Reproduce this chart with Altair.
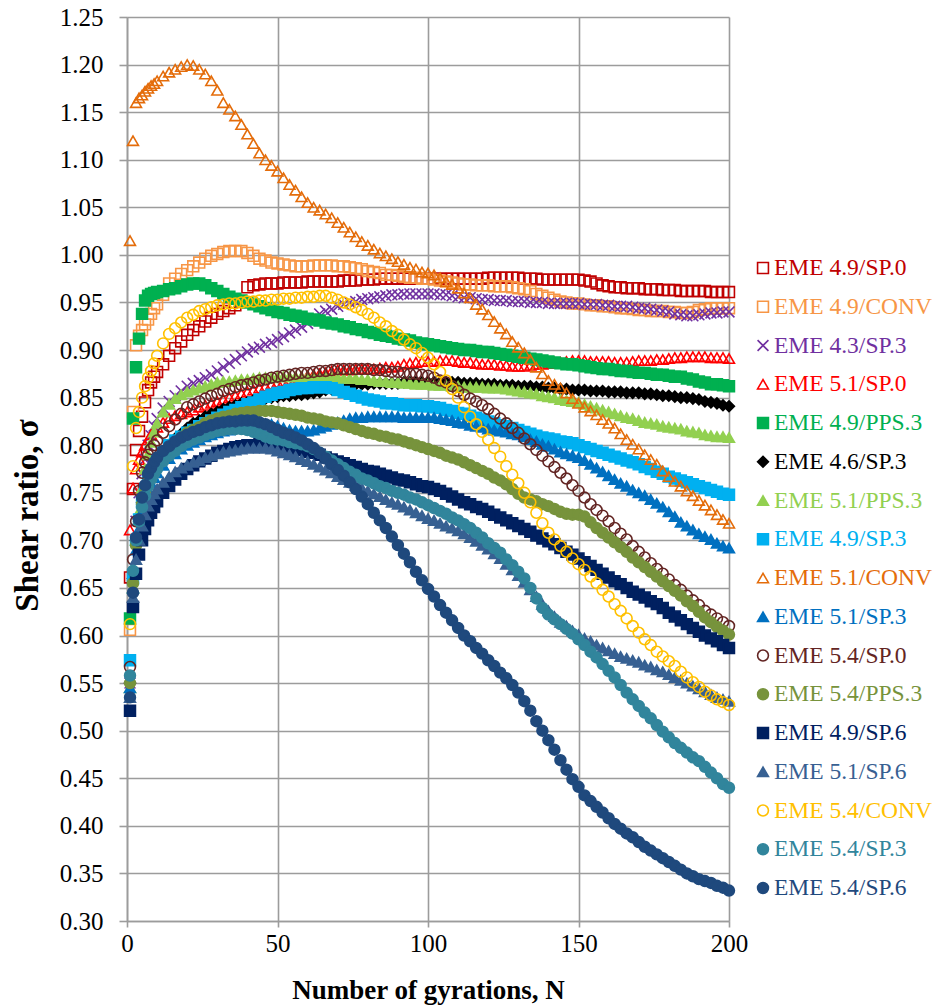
import altair as alt
import pandas as pd

# Gyration counts at which the shear ratio is plotted
GYRATIONS = list(range(1, 11)) + list(range(12, 201, 2))

SERIES = [
    "EME 4.9/SP.0", "EME 4.9/CONV", "EME 4.3/SP.3", "EME 5.1/SP.0",
    "EME 4.9/PPS.3", "EME 4.6/SP.3", "EME 5.1/PPS.3", "EME 4.9/SP.3",
    "EME 5.1/CONV", "EME 5.1/SP.3", "EME 5.4/SP.0", "EME 5.4/PPS.3",
    "EME 4.9/SP.6", "EME 5.1/SP.6", "EME 5.4/CONV", "EME 5.4/SP.3",
    "EME 5.4/SP.6",
]

COLORS = [
    "#C00000", "#F79646", "#7030A0", "#FF0000",
    "#00B050", "#000000", "#92D050", "#00B0F0",
    "#E46C0A", "#0070C0", "#632523", "#77933C",
    "#002060", "#376092", "#FFC000", "#31859C",
    "#1F497D",
]

X_MARK = "M-1,-1L1,1M-1,1L1,-1"
SHAPES = [
    "square", "square", X_MARK, "triangle-up",
    "square", "diamond", "triangle-up", "square",
    "triangle-up", "triangle-up", "circle", "circle",
    "square", "triangle-up", "circle", "circle",
    "circle",
]
HOLLOW = [
    True, True, True, True,
    False, False, False, False,
    True, False, True, False,
    False, False, True, False,
    False,
]

# Shear ratio per mixture: N = 1..10, then every second gyration up to 200
S_49_SP0 = [
    0.661, 0.754, 0.795, 0.815, 0.830, 0.845, 0.858, 0.866, 0.872, 0.877,
    0.885, 0.894, 0.902, 0.909, 0.916, 0.921, 0.925, 0.930, 0.934, 0.938,
    0.941, 0.944, 0.947, 0.951, 0.966, 0.968, 0.969, 0.970, 0.970, 0.970,
    0.971, 0.971, 0.971, 0.971, 0.972, 0.972, 0.972, 0.972, 0.972, 0.972,
    0.973, 0.973, 0.973, 0.974, 0.974, 0.974, 0.975, 0.975, 0.975, 0.975,
    0.975, 0.975, 0.975, 0.975, 0.975, 0.975, 0.975, 0.975, 0.975, 0.975,
    0.975, 0.975, 0.975, 0.975, 0.976, 0.976, 0.976, 0.976, 0.976, 0.976,
    0.975, 0.975, 0.975, 0.974, 0.974, 0.974, 0.974, 0.974, 0.974, 0.974,
    0.973, 0.972, 0.970, 0.968, 0.967, 0.966, 0.966, 0.965, 0.965, 0.965,
    0.964, 0.964, 0.964, 0.963, 0.963, 0.963, 0.962, 0.962, 0.962, 0.962,
    0.962, 0.961, 0.961, 0.961, 0.961,
]
S_49_CONV = [
    0.606, 0.835, 0.905, 0.915, 0.921, 0.927, 0.932, 0.938, 0.944, 0.948,
    0.958, 0.970, 0.975, 0.980, 0.984, 0.988, 0.992, 0.996, 0.999, 1.001,
    1.003, 1.004, 1.004, 1.004, 1.002, 0.999, 0.996, 0.994, 0.992, 0.991,
    0.990, 0.989, 0.988, 0.988, 0.988, 0.989, 0.989, 0.989, 0.989, 0.988,
    0.988, 0.987, 0.986, 0.985, 0.983, 0.982, 0.981, 0.979, 0.979, 0.978,
    0.977, 0.976, 0.976, 0.975, 0.975, 0.974, 0.973, 0.972, 0.971, 0.970,
    0.969, 0.969, 0.968, 0.968, 0.968, 0.967, 0.967, 0.967, 0.966, 0.965,
    0.964, 0.962, 0.959, 0.957, 0.955, 0.953, 0.951, 0.950, 0.949, 0.949,
    0.948, 0.947, 0.947, 0.946, 0.946, 0.945, 0.944, 0.944, 0.943, 0.942,
    0.942, 0.941, 0.941, 0.941, 0.940, 0.940, 0.939, 0.939, 0.940, 0.942,
    0.943, 0.944, 0.944, 0.944, 0.944,
]
S_43_SP3 = [
    0.550, 0.660, 0.720, 0.750, 0.770, 0.785, 0.800, 0.810, 0.820, 0.828,
    0.839, 0.846, 0.852, 0.857, 0.862, 0.865, 0.868, 0.871, 0.874, 0.878,
    0.882, 0.886, 0.890, 0.894, 0.898, 0.901, 0.903, 0.906, 0.908, 0.911,
    0.914, 0.918, 0.921, 0.924, 0.928, 0.933, 0.938, 0.941, 0.943, 0.946,
    0.948, 0.950, 0.951, 0.953, 0.954, 0.955, 0.956, 0.957, 0.958, 0.958,
    0.959, 0.959, 0.959, 0.959, 0.959, 0.959, 0.958, 0.958, 0.957, 0.956,
    0.955, 0.955, 0.954, 0.953, 0.953, 0.952, 0.952, 0.952, 0.951, 0.951,
    0.951, 0.950, 0.950, 0.950, 0.949, 0.949, 0.949, 0.949, 0.949, 0.949,
    0.948, 0.948, 0.948, 0.947, 0.947, 0.946, 0.946, 0.946, 0.945, 0.944,
    0.944, 0.943, 0.942, 0.941, 0.940, 0.938, 0.937, 0.936, 0.936, 0.937,
    0.938, 0.939, 0.939, 0.940, 0.940,
]
S_51_SP0 = [
    0.711, 0.755, 0.775, 0.785, 0.793, 0.800, 0.806, 0.811, 0.815, 0.819,
    0.824, 0.828, 0.831, 0.833, 0.835, 0.837, 0.840, 0.842, 0.844, 0.846,
    0.848, 0.850, 0.852, 0.854, 0.856, 0.858, 0.860, 0.862, 0.864, 0.866,
    0.867, 0.869, 0.870, 0.871, 0.873, 0.874, 0.875, 0.876, 0.878, 0.879,
    0.879, 0.879, 0.880, 0.880, 0.880, 0.880, 0.881, 0.882, 0.882, 0.883,
    0.885, 0.886, 0.887, 0.888, 0.888, 0.888, 0.889, 0.889, 0.889, 0.888,
    0.887, 0.887, 0.886, 0.885, 0.885, 0.885, 0.884, 0.884, 0.883, 0.883,
    0.883, 0.884, 0.885, 0.885, 0.886, 0.887, 0.887, 0.888, 0.889, 0.889,
    0.889, 0.888, 0.888, 0.888, 0.888, 0.887, 0.887, 0.887, 0.888, 0.889,
    0.889, 0.889, 0.890, 0.890, 0.891, 0.892, 0.892, 0.893, 0.893, 0.893,
    0.893, 0.892, 0.892, 0.892, 0.891,
]
S_49_PPS3 = [
    0.618, 0.828, 0.882, 0.912, 0.938, 0.952, 0.957, 0.959, 0.960, 0.961,
    0.962, 0.964, 0.965, 0.967, 0.969, 0.970, 0.970, 0.968, 0.965, 0.962,
    0.959, 0.956, 0.954, 0.952, 0.950, 0.948, 0.946, 0.944, 0.942, 0.940,
    0.939, 0.937, 0.936, 0.935, 0.933, 0.932, 0.931, 0.929, 0.928, 0.927,
    0.925, 0.924, 0.922, 0.921, 0.919, 0.918, 0.916, 0.915, 0.914, 0.912,
    0.911, 0.910, 0.908, 0.907, 0.906, 0.905, 0.904, 0.903, 0.902, 0.901,
    0.900, 0.900, 0.899, 0.898, 0.898, 0.897, 0.896, 0.895, 0.894, 0.893,
    0.892, 0.891, 0.890, 0.889, 0.888, 0.887, 0.886, 0.885, 0.885, 0.884,
    0.883, 0.882, 0.881, 0.880, 0.880, 0.879, 0.878, 0.878, 0.877, 0.876,
    0.876, 0.875, 0.874, 0.874, 0.873, 0.872, 0.872, 0.870, 0.869, 0.867,
    0.866, 0.864, 0.864, 0.863, 0.862,
]
S_46_SP3 = [
    0.550, 0.660, 0.700, 0.722, 0.740, 0.752, 0.762, 0.770, 0.776, 0.782,
    0.792, 0.800, 0.807, 0.812, 0.818, 0.823, 0.826, 0.830, 0.833, 0.835,
    0.838, 0.840, 0.842, 0.844, 0.845, 0.847, 0.848, 0.849, 0.850, 0.851,
    0.852, 0.852, 0.853, 0.853, 0.854, 0.855, 0.856, 0.858, 0.859, 0.861,
    0.862, 0.863, 0.864, 0.864, 0.864, 0.865, 0.865, 0.865, 0.865, 0.865,
    0.866, 0.866, 0.866, 0.866, 0.866, 0.866, 0.866, 0.866, 0.866, 0.866,
    0.865, 0.865, 0.865, 0.864, 0.864, 0.864, 0.863, 0.863, 0.863, 0.862,
    0.862, 0.862, 0.861, 0.861, 0.860, 0.860, 0.859, 0.859, 0.858, 0.858,
    0.858, 0.857, 0.857, 0.857, 0.856, 0.856, 0.856, 0.855, 0.855, 0.855,
    0.854, 0.854, 0.853, 0.852, 0.852, 0.851, 0.850, 0.850, 0.849, 0.848,
    0.846, 0.845, 0.844, 0.842, 0.841,
]
S_51_PPS3 = [
    0.545, 0.650, 0.700, 0.730, 0.755, 0.775, 0.790, 0.803, 0.814, 0.823,
    0.835, 0.843, 0.849, 0.853, 0.856, 0.858, 0.860, 0.862, 0.864, 0.866,
    0.867, 0.867, 0.868, 0.869, 0.869, 0.870, 0.871, 0.871, 0.871, 0.872,
    0.872, 0.872, 0.872, 0.872, 0.872, 0.872, 0.872, 0.871, 0.871, 0.871,
    0.870, 0.870, 0.870, 0.869, 0.869, 0.868, 0.867, 0.867, 0.866, 0.866,
    0.865, 0.865, 0.864, 0.864, 0.864, 0.863, 0.863, 0.863, 0.862, 0.862,
    0.861, 0.861, 0.861, 0.861, 0.860, 0.860, 0.860, 0.859, 0.858, 0.857,
    0.856, 0.855, 0.854, 0.852, 0.851, 0.850, 0.848, 0.847, 0.846, 0.845,
    0.843, 0.841, 0.839, 0.837, 0.835, 0.833, 0.831, 0.829, 0.828, 0.826,
    0.824, 0.823, 0.822, 0.820, 0.819, 0.818, 0.817, 0.815, 0.814, 0.813,
    0.811, 0.810, 0.809, 0.809, 0.808,
]
S_49_SP3 = [
    0.574, 0.660, 0.700, 0.722, 0.740, 0.752, 0.762, 0.770, 0.777, 0.783,
    0.792, 0.800, 0.805, 0.809, 0.813, 0.816, 0.820, 0.823, 0.826, 0.829,
    0.832, 0.835, 0.837, 0.840, 0.843, 0.845, 0.848, 0.851, 0.853, 0.855,
    0.856, 0.858, 0.859, 0.860, 0.860, 0.861, 0.861, 0.861, 0.860, 0.858,
    0.856, 0.854, 0.852, 0.850, 0.848, 0.847, 0.846, 0.844, 0.844, 0.843,
    0.842, 0.842, 0.842, 0.841, 0.841, 0.840, 0.839, 0.837, 0.836, 0.834,
    0.833, 0.831, 0.829, 0.827, 0.825, 0.823, 0.821, 0.820, 0.818, 0.816,
    0.814, 0.812, 0.810, 0.808, 0.807, 0.806, 0.804, 0.803, 0.802, 0.800,
    0.798, 0.796, 0.794, 0.792, 0.790, 0.788, 0.786, 0.784, 0.782, 0.780,
    0.777, 0.775, 0.772, 0.770, 0.767, 0.765, 0.763, 0.761, 0.759, 0.757,
    0.755, 0.753, 0.751, 0.749, 0.748,
]
S_51_CONV = [
    1.015, 1.120, 1.160, 1.165, 1.168, 1.172, 1.175, 1.178, 1.180, 1.183,
    1.188, 1.192, 1.195, 1.198, 1.200, 1.199, 1.195, 1.190, 1.183, 1.173,
    1.160, 1.153, 1.146, 1.137, 1.127, 1.117, 1.107, 1.100, 1.094, 1.088,
    1.081, 1.074, 1.068, 1.061, 1.055, 1.050, 1.047, 1.043, 1.039, 1.034,
    1.029, 1.024, 1.019, 1.014, 1.010, 1.006, 1.002, 0.999, 0.996, 0.993,
    0.990, 0.987, 0.985, 0.982, 0.981, 0.979, 0.976, 0.972, 0.969, 0.965,
    0.960, 0.955, 0.948, 0.943, 0.937, 0.930, 0.923, 0.917, 0.909, 0.903,
    0.897, 0.890, 0.882, 0.875, 0.868, 0.864, 0.860, 0.855, 0.849, 0.844,
    0.840, 0.836, 0.832, 0.827, 0.823, 0.818, 0.812, 0.806, 0.801, 0.796,
    0.790, 0.785, 0.780, 0.773, 0.767, 0.762, 0.757, 0.752, 0.747, 0.742,
    0.737, 0.732, 0.727, 0.722, 0.718,
]
S_51_SP3 = [
    0.545, 0.650, 0.690, 0.712, 0.730, 0.742, 0.752, 0.760, 0.766, 0.771,
    0.779, 0.786, 0.791, 0.796, 0.800, 0.803, 0.806, 0.809, 0.811, 0.813,
    0.815, 0.816, 0.818, 0.819, 0.820, 0.820, 0.821, 0.822, 0.822, 0.820,
    0.818, 0.816, 0.815, 0.815, 0.815, 0.816, 0.818, 0.820, 0.822, 0.824,
    0.826, 0.828, 0.829, 0.829, 0.830, 0.830, 0.830, 0.830, 0.830, 0.830,
    0.829, 0.829, 0.829, 0.829, 0.829, 0.829, 0.828, 0.827, 0.826, 0.824,
    0.823, 0.821, 0.820, 0.819, 0.817, 0.816, 0.815, 0.814, 0.812, 0.811,
    0.809, 0.806, 0.804, 0.801, 0.799, 0.796, 0.793, 0.791, 0.789, 0.787,
    0.784, 0.780, 0.776, 0.772, 0.768, 0.764, 0.760, 0.757, 0.753, 0.750,
    0.747, 0.743, 0.739, 0.735, 0.730, 0.725, 0.719, 0.715, 0.711, 0.707,
    0.704, 0.701, 0.697, 0.694, 0.692,
]
S_54_SP0 = [
    0.567, 0.680, 0.720, 0.752, 0.771, 0.782, 0.790, 0.796, 0.800, 0.805,
    0.813, 0.820, 0.827, 0.833, 0.840, 0.843, 0.846, 0.849, 0.852, 0.854,
    0.857, 0.859, 0.861, 0.863, 0.864, 0.866, 0.868, 0.869, 0.871, 0.872,
    0.873, 0.874, 0.875, 0.876, 0.876, 0.877, 0.878, 0.878, 0.879, 0.880,
    0.880, 0.880, 0.880, 0.880, 0.880, 0.879, 0.879, 0.878, 0.877, 0.877,
    0.876, 0.875, 0.875, 0.874, 0.873, 0.871, 0.868, 0.866, 0.862, 0.857,
    0.853, 0.849, 0.846, 0.842, 0.838, 0.833, 0.828, 0.823, 0.818, 0.813,
    0.807, 0.801, 0.795, 0.789, 0.783, 0.777, 0.771, 0.765, 0.758, 0.752,
    0.745, 0.738, 0.732, 0.726, 0.720, 0.713, 0.707, 0.701, 0.694, 0.688,
    0.682, 0.676, 0.670, 0.665, 0.659, 0.653, 0.648, 0.642, 0.637, 0.632,
    0.626, 0.622, 0.618, 0.614, 0.610,
]
S_54_PPS3 = [
    0.550, 0.655, 0.695, 0.720, 0.738, 0.750, 0.760, 0.768, 0.775, 0.781,
    0.790, 0.797, 0.803, 0.808, 0.813, 0.816, 0.819, 0.823, 0.826, 0.828,
    0.830, 0.831, 0.833, 0.834, 0.835, 0.835, 0.836, 0.836, 0.836, 0.835,
    0.834, 0.833, 0.832, 0.831, 0.829, 0.828, 0.827, 0.825, 0.824, 0.823,
    0.821, 0.819, 0.817, 0.815, 0.813, 0.812, 0.810, 0.809, 0.807, 0.806,
    0.804, 0.802, 0.800, 0.798, 0.796, 0.794, 0.792, 0.789, 0.787, 0.785,
    0.782, 0.779, 0.776, 0.773, 0.770, 0.766, 0.763, 0.759, 0.754, 0.749,
    0.745, 0.743, 0.741, 0.738, 0.736, 0.733, 0.730, 0.728, 0.727, 0.727,
    0.725, 0.719, 0.713, 0.708, 0.703, 0.698, 0.693, 0.688, 0.682, 0.677,
    0.672, 0.667, 0.662, 0.657, 0.652, 0.647, 0.642, 0.636, 0.631, 0.625,
    0.619, 0.614, 0.609, 0.605, 0.601,
]
S_49_SP6 = [
    0.521, 0.630, 0.665, 0.685, 0.700, 0.712, 0.721, 0.729, 0.735, 0.741,
    0.750, 0.757, 0.764, 0.770, 0.775, 0.779, 0.783, 0.786, 0.789, 0.792,
    0.794, 0.796, 0.798, 0.799, 0.800, 0.800, 0.801, 0.801, 0.801, 0.800,
    0.799, 0.797, 0.796, 0.795, 0.793, 0.792, 0.790, 0.787, 0.785, 0.783,
    0.781, 0.779, 0.777, 0.775, 0.773, 0.772, 0.770, 0.768, 0.766, 0.764,
    0.763, 0.761, 0.759, 0.757, 0.756, 0.754, 0.752, 0.749, 0.746, 0.743,
    0.740, 0.738, 0.735, 0.733, 0.730, 0.727, 0.724, 0.721, 0.718, 0.715,
    0.712, 0.709, 0.705, 0.702, 0.699, 0.696, 0.692, 0.688, 0.685, 0.681,
    0.677, 0.673, 0.669, 0.665, 0.661, 0.657, 0.654, 0.650, 0.646, 0.643,
    0.640, 0.636, 0.633, 0.629, 0.624, 0.620, 0.616, 0.612, 0.608, 0.604,
    0.600, 0.597, 0.594, 0.590, 0.587,
]
S_51_SP6 = [
    0.535, 0.640, 0.680, 0.700, 0.715, 0.727, 0.736, 0.743, 0.749, 0.754,
    0.761, 0.767, 0.772, 0.776, 0.779, 0.782, 0.784, 0.787, 0.789, 0.791,
    0.793, 0.794, 0.795, 0.796, 0.797, 0.797, 0.797, 0.797, 0.796, 0.794,
    0.792, 0.790, 0.788, 0.785, 0.783, 0.780, 0.777, 0.774, 0.771, 0.767,
    0.764, 0.761, 0.758, 0.755, 0.752, 0.749, 0.746, 0.743, 0.740, 0.738,
    0.735, 0.732, 0.729, 0.726, 0.723, 0.721, 0.718, 0.715, 0.713, 0.710,
    0.707, 0.703, 0.699, 0.695, 0.691, 0.686, 0.681, 0.675, 0.669, 0.663,
    0.656, 0.648, 0.641, 0.633, 0.626, 0.620, 0.614, 0.610, 0.605, 0.601,
    0.597, 0.594, 0.590, 0.587, 0.584, 0.581, 0.578, 0.576, 0.574, 0.572,
    0.569, 0.567, 0.564, 0.562, 0.559, 0.556, 0.553, 0.550, 0.547, 0.544,
    0.541, 0.538, 0.535, 0.533, 0.531,
]
S_54_CONV = [
    0.612, 0.778, 0.818, 0.835, 0.850, 0.862, 0.871, 0.878, 0.886, 0.894,
    0.907, 0.917, 0.923, 0.929, 0.934, 0.937, 0.941, 0.943, 0.945, 0.947,
    0.948, 0.949, 0.949, 0.950, 0.951, 0.951, 0.952, 0.952, 0.953, 0.953,
    0.954, 0.954, 0.955, 0.955, 0.956, 0.956, 0.957, 0.957, 0.955, 0.953,
    0.950, 0.948, 0.945, 0.942, 0.938, 0.934, 0.929, 0.925, 0.920, 0.916,
    0.911, 0.906, 0.902, 0.897, 0.892, 0.885, 0.877, 0.868, 0.859, 0.850,
    0.840, 0.830, 0.822, 0.814, 0.806, 0.797, 0.788, 0.778, 0.769, 0.760,
    0.750, 0.740, 0.729, 0.718, 0.708, 0.701, 0.694, 0.688, 0.681, 0.675,
    0.669, 0.662, 0.655, 0.648, 0.641, 0.633, 0.626, 0.618, 0.610, 0.603,
    0.596, 0.590, 0.583, 0.578, 0.573, 0.568, 0.562, 0.556, 0.551, 0.546,
    0.541, 0.537, 0.533, 0.530, 0.527,
]
S_54_SP3 = [
    0.558, 0.668, 0.700, 0.720, 0.735, 0.747, 0.757, 0.764, 0.770, 0.775,
    0.783, 0.789, 0.794, 0.799, 0.803, 0.806, 0.808, 0.811, 0.813, 0.815,
    0.816, 0.817, 0.817, 0.817, 0.816, 0.814, 0.812, 0.809, 0.807, 0.806,
    0.805, 0.803, 0.802, 0.801, 0.799, 0.796, 0.792, 0.788, 0.784, 0.780,
    0.776, 0.772, 0.769, 0.765, 0.763, 0.760, 0.757, 0.755, 0.752, 0.750,
    0.748, 0.745, 0.743, 0.740, 0.737, 0.734, 0.731, 0.728, 0.724, 0.721,
    0.717, 0.713, 0.708, 0.703, 0.697, 0.692, 0.687, 0.680, 0.674, 0.667,
    0.660, 0.650, 0.639, 0.629, 0.622, 0.617, 0.612, 0.607, 0.602, 0.596,
    0.590, 0.583, 0.577, 0.570, 0.563, 0.556, 0.548, 0.540, 0.533, 0.526,
    0.519, 0.513, 0.506, 0.499, 0.493, 0.487, 0.482, 0.477, 0.472, 0.468,
    0.462, 0.456, 0.450, 0.444, 0.440,
]
S_54_SP6 = [
    0.535, 0.645, 0.703, 0.722, 0.745, 0.758, 0.770, 0.776, 0.782, 0.787,
    0.794, 0.799, 0.804, 0.808, 0.811, 0.814, 0.816, 0.819, 0.821, 0.823,
    0.824, 0.825, 0.825, 0.826, 0.826, 0.826, 0.824, 0.822, 0.819, 0.816,
    0.813, 0.811, 0.808, 0.805, 0.801, 0.797, 0.792, 0.786, 0.780, 0.774,
    0.768, 0.761, 0.754, 0.746, 0.738, 0.729, 0.721, 0.713, 0.704, 0.695,
    0.686, 0.677, 0.667, 0.658, 0.649, 0.641, 0.632, 0.624, 0.616, 0.608,
    0.600, 0.594, 0.587, 0.581, 0.574, 0.568, 0.561, 0.555, 0.548, 0.540,
    0.531, 0.521, 0.510, 0.500, 0.490, 0.480, 0.469, 0.459, 0.449, 0.441,
    0.432, 0.426, 0.420, 0.414, 0.408, 0.402, 0.397, 0.392, 0.388, 0.383,
    0.378, 0.374, 0.370, 0.366, 0.362, 0.358, 0.354, 0.350, 0.347, 0.344,
    0.342, 0.340, 0.337, 0.335, 0.332,
]

VALUES = [
    S_49_SP0, S_49_CONV, S_43_SP3, S_51_SP0, S_49_PPS3, S_46_SP3, S_51_PPS3,
    S_49_SP3, S_51_CONV, S_51_SP3, S_54_SP0, S_54_PPS3, S_49_SP6, S_51_SP6,
    S_54_CONV, S_54_SP3, S_54_SP6,
]

Y_TICKS = [0.30, 0.35, 0.40, 0.45, 0.50, 0.55, 0.60, 0.65, 0.70, 0.75, 0.80,
           0.85, 0.90, 0.95, 1.00, 1.05, 1.10, 1.15, 1.20, 1.25]
X_TICKS = [0, 50, 100, 150, 200]

rows = []
for name, vals in zip(SERIES, VALUES):
    assert len(vals) == len(GYRATIONS), name
    for n, v in zip(GYRATIONS, vals):
        rows.append({"series": name, "N": n, "sigma": v})
df = pd.DataFrame(rows)

# Marker styling per series: hollow markers get a transparent fill
FILLS = ["transparent" if h else c for h, c in zip(HOLLOW, COLORS)]
SIZES = []
for shp in SHAPES:
    if shp.startswith("triangle") or shp == "diamond":
        SIZES.append(165)
    elif shp == X_MARK:
        SIZES.append(105)
    elif shp == "circle":
        SIZES.append(130)
    else:
        SIZES.append(118)
STROKE_W = [1.6 if h else 1.0 for h in HOLLOW]

FONT = "Liberation Serif"
GRID = "#9c9c9c"


def marker_channels():
    return dict(
        shape=alt.Shape("series:N", scale=alt.Scale(domain=SERIES, range=SHAPES), legend=None),
        stroke=alt.Stroke("series:N", scale=alt.Scale(domain=SERIES, range=COLORS), legend=None),
        fill=alt.Fill("series:N", scale=alt.Scale(domain=SERIES, range=FILLS), legend=None),
        size=alt.Size("series:N", scale=alt.Scale(domain=SERIES, range=SIZES), legend=None),
        strokeWidth=alt.StrokeWidth("series:N", scale=alt.Scale(domain=SERIES, range=STROKE_W), legend=None),
    )


points = alt.Chart(df).mark_point(opacity=1).encode(
    x=alt.X(
        "N:Q",
        scale=alt.Scale(domain=[0, 200], nice=False),
        axis=alt.Axis(
            values=X_TICKS, format="d", title="Number of gyrations, N",
            grid=True, gridColor=GRID, gridWidth=1.6,
            domainColor=GRID, domainWidth=1.6, tickColor=GRID, tickWidth=1.6,
            tickSize=6, labelPadding=4, labelFont=FONT, labelFontSize=25,
            labelColor="black", labelFlush=False, labelOverlap=False,
            titleFont=FONT, titleFontSize=27, titleFontWeight="bold",
            titleColor="black", titleY=77, titleBaseline="alphabetic",
        ),
    ),
    y=alt.Y(
        "sigma:Q",
        scale=alt.Scale(domain=[0.30, 1.25], nice=False, zero=False),
        axis=alt.Axis(
            values=Y_TICKS, format=".2f", title="Shear ratio, σ",
            grid=True, gridColor=GRID, gridWidth=1.6,
            domainColor=GRID, domainWidth=1.6, tickColor=GRID, tickWidth=1.6,
            tickSize=8, labelPadding=16, labelFont=FONT, labelFontSize=25,
            labelColor="black", labelFlush=False, labelOverlap=False,
            titleFont=FONT, titleFontSize=33, titleFontWeight="bold",
            titleColor="black", titleAngle=270, titleX=-90, titleY=498,
            titleAlign="center", titleBaseline="alphabetic",
        ),
    ),
    **marker_channels(),
)

# Legend column to the right of the plot
legend_df = pd.DataFrame({"series": SERIES})
legend_y = alt.Y(
    "series:N", sort=SERIES, axis=None,
    scale=alt.Scale(type="point", domain=SERIES, range=[251, 871], padding=0),
)
legend_marks = alt.Chart(legend_df).mark_point(opacity=1).encode(
    x=alt.value(636), y=legend_y, **marker_channels()
)
legend_text = alt.Chart(legend_df).mark_text(
    align="left", baseline="middle", font=FONT, fontSize=23.5
).encode(
    x=alt.value(647),
    y=legend_y,
    text="series:N",
    color=alt.Color("series:N", scale=alt.Scale(domain=SERIES, range=COLORS), legend=None),
)

chart = (
    alt.layer(points, alt.layer(legend_marks, legend_text))
    .resolve_scale(y="independent")
    .properties(
        width=602,
        height=904,
        autosize=alt.AutoSizeParams(type="none"),
        padding={"left": 127, "top": 17, "right": 218, "bottom": 87},
        background="white",
    )
    .configure_view(strokeWidth=0)
)

chart.save("out.html", embed_options={"renderer": "svg", "actions": False})
